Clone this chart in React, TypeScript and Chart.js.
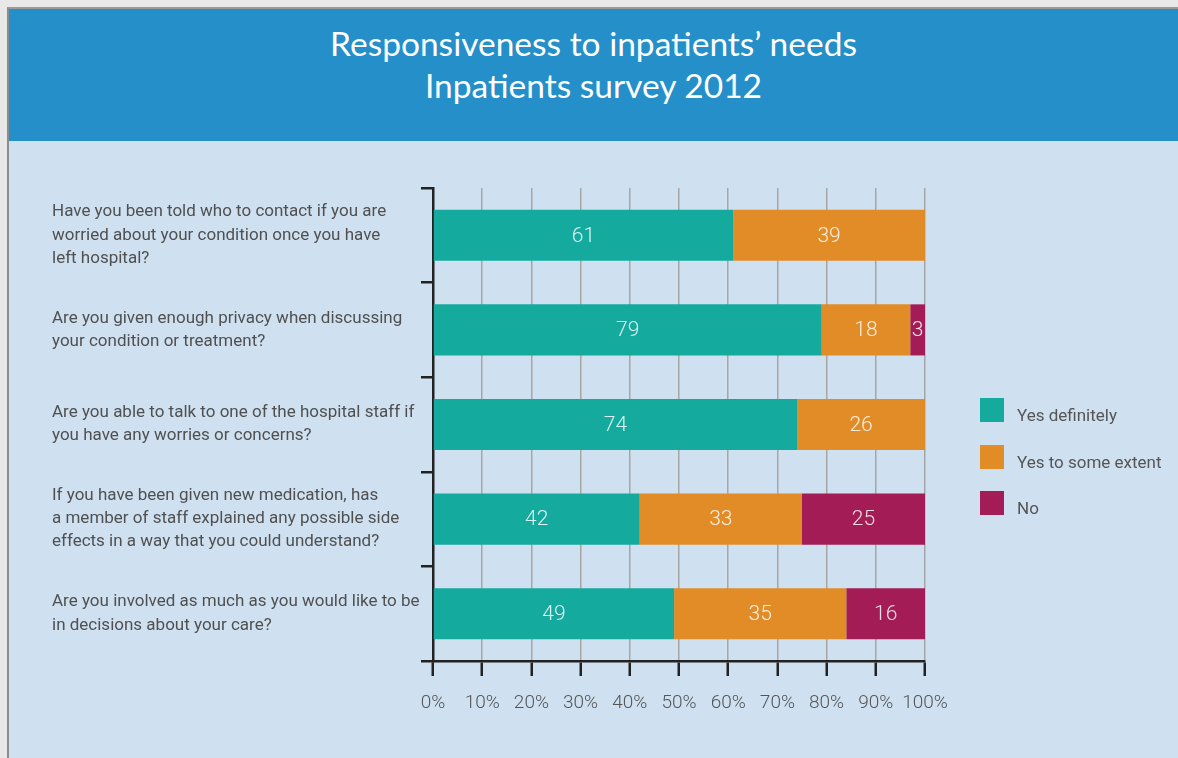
import React, { useEffect, useRef } from "react";
import { Chart, registerables } from "chart.js";

Chart.register(...registerables);

const titleLines = ["Responsiveness to inpatients’ needs", "Inpatients survey 2012"];

const categories: string[][] = [
  ["Have you been told who to contact if you are", "worried about your condition once you have", "left hospital?"],
  ["Are you given enough privacy when discussing", "your condition or treatment?"],
  ["Are you able to talk to one of the hospital staff if", "you have any worries or concerns?"],
  ["If you have been given new medication, has", "a member of staff explained any possible side", "effects in a way that you could understand?"],
  ["Are you involved as much as you would like to be", "in decisions about your care?"],
];

const seriesNames = ["Yes definitely", "Yes to some extent", "No"];
const yesDefinitely = [61, 79, 74, 42, 49];
const yesSomeExtent = [39, 18, 26, 33, 35];
const noValues = [0, 3, 0, 25, 16];
const seriesColors = ["#15aa9e", "#e28c27", "#a31c55"];

const xTickValues = [0, 10, 20, 30, 40, 50, 60, 70, 80, 90, 100];

const LABEL_FONT = "Roboto";

const barLabels = {
  id: "barLabels",
  afterDatasetsDraw(chart: any) {
    const ctx = chart.ctx;
    ctx.save();
    ctx.font = `300 21px Roboto`;
    ctx.fillStyle = "rgba(255,255,255,0.85)";
    ctx.textAlign = "center";
    ctx.textBaseline = "middle";
    chart.data.datasets.forEach((ds: any, i: number) => {
      const meta = chart.getDatasetMeta(i);
      meta.data.forEach((el: any, j: number) => {
        const v = ds.data[j];
        if (!v) return;
        const p = el.getProps(["x", "y", "base"], true);
        ctx.fillText(String(v), (p.x + p.base) / 2, p.y + 1);
      });
    });
    ctx.restore();
  },
};

function BarChart() {
  const ref = useRef<HTMLCanvasElement | null>(null);
  useEffect(() => {
    if (!ref.current) return;
    const data = [yesDefinitely, yesSomeExtent, noValues];
    const chart = new Chart(ref.current, {
      type: "bar",
      data: {
        labels: categories,
        datasets: seriesNames.map((name, i) => ({
          label: name,
          data: data[i],
          backgroundColor: seriesColors[i],
          borderWidth: 0,
          barPercentage: 0.54,
          categoryPercentage: 1,
        })),
      },
      options: {
        indexAxis: "y",
        responsive: false,
        animation: false,
        devicePixelRatio: 1,
        layout: { padding: { top: 47, right: 253, bottom: 43, left: 52 } },
        plugins: {
          legend: { display: false },
          tooltip: { enabled: false },
          title: { display: false },
        },
        scales: {
          x: {
            stacked: true,
            min: 0,
            max: 100,
            afterBuildTicks: (s: any) => {
              s.ticks = xTickValues.map((v) => ({ value: v }));
            },
            afterFit: (s: any) => {
              s.height = 54;
            },
            grid: {
              color: "#a6a6a6",
              lineWidth: 1.5,
              tickColor: "#222222",
              tickWidth: 2.5,
              tickLength: 15,
              drawTicks: true,
              drawOnChartArea: true,
            },
            border: { display: true, color: "#222222", width: 2.5 },
            ticks: {
              padding: 16,
              color: "#555555",
              font: { family: "Roboto", size: 19, weight: "300" },
              callback: (v: any) => `${v}%`,
              maxRotation: 0,
              autoSkip: false,
            },
          },
          y: {
            stacked: true,
            afterFit: (s: any) => {
              s.width = 381;
            },
            grid: {
              offset: true,
              drawOnChartArea: false,
              drawTicks: true,
              tickLength: 12,
              color: "#222222",
              lineWidth: 2.5,
            },
            border: { display: true, color: "#222222", width: 2.5 },
            ticks: {
              crossAlign: "far",
              padding: 8,
              color: "#505050",
              font: { family: LABEL_FONT, size: 17, lineHeight: 1.36 },
            },
          },
        },
      },
      plugins: [barLabels],
    } as any);
    return () => chart.destroy();
  }, []);
  return (
    <canvas
      ref={ref}
      width={1178}
      height={617}
      style={{ position: "absolute", left: 0, top: 141, width: 1178, height: 617 }}
    />
  );
}

export default function App() {
  const legendTops = [398, 445, 491];
  return (
    <div
      style={{
        position: "absolute",
        left: 0,
        top: 0,
        width: 1178,
        height: 758,
        overflow: "hidden",
        background: "#e8e8e8",
      }}
    >
      <div
        style={{
          position: "absolute",
          left: 7,
          top: 7,
          width: 1171,
          height: 751,
          borderLeft: "2px solid #8c8c8c",
          borderTop: "2px solid #9a9a9a",
          background: "#cfe0f1",
          boxSizing: "border-box",
        }}
      />
      <div
        style={{
          position: "absolute",
          left: 9,
          top: 9,
          width: 1169,
          height: 132,
          background: "#248fc9",
          color: "#ffffff",
          fontFamily: "Lato, sans-serif",
          fontSize: 33.5,
          lineHeight: "42px",
          textAlign: "center",
        }}
      >
        <div style={{ paddingTop: 13 }}>
          {titleLines.map((t) => (
            <div key={t}>{t}</div>
          ))}
        </div>
      </div>
      <BarChart />
      {seriesNames.map((name, i) => (
        <div key={name}>
          <div
            style={{
              position: "absolute",
              left: 980,
              top: legendTops[i],
              width: 24,
              height: 24,
              background: seriesColors[i],
            }}
          />
          <div
            style={{
              position: "absolute",
              left: 1017,
              top: legendTops[i] + 5,
              lineHeight: "24px",
              fontFamily: "Roboto, sans-serif",
              fontSize: 17,
              color: "#555555",
              whiteSpace: "nowrap",
            }}
          >
            {name}
          </div>
        </div>
      ))}
    </div>
  );
}
